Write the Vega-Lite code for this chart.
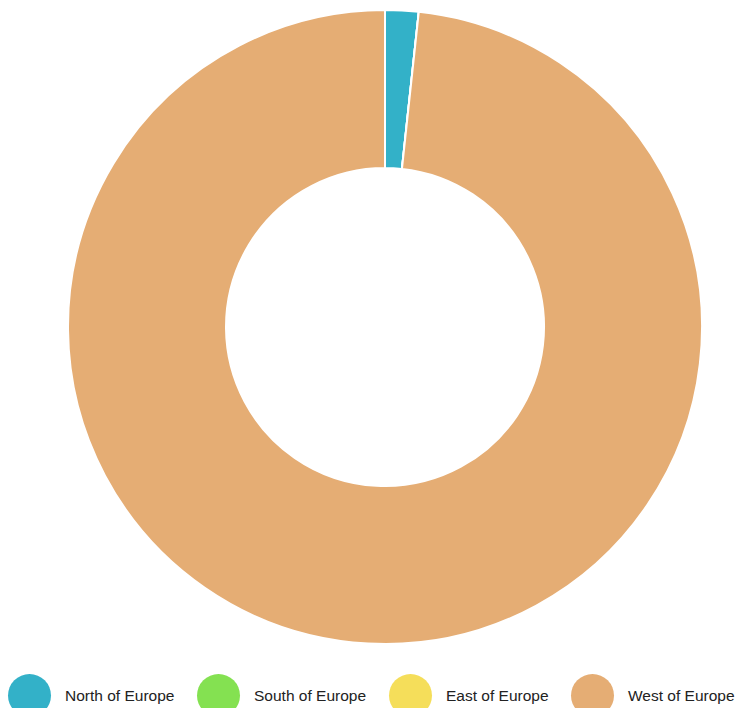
{
  "$schema": "https://vega.github.io/schema/vega-lite/v6.json",
  "width": 770,
  "height": 654,
  "padding": 0,
  "autosize": {"type": "pad"},
  "background": "white",
  "config": {"view": {"stroke": null}, "font": "Liberation Sans"},
  "data": {
    "values": [
      {"region": "North of Europe", "value": 1.7, "idx": 1},
      {"region": "South of Europe", "value": 0, "idx": 2},
      {"region": "East of Europe", "value": 0, "idx": 3},
      {"region": "West of Europe", "value": 98.3, "idx": 4}
    ]
  },
  "mark": {"type": "arc", "outerRadius": 317, "innerRadius": 159, "stroke": "white", "strokeWidth": 2},
  "encoding": {
    "theta": {"field": "value", "type": "quantitative", "stack": true},
    "order": {"field": "idx", "type": "quantitative"},
    "color": {
      "field": "region",
      "type": "nominal",
      "scale": {
        "domain": ["North of Europe", "South of Europe", "East of Europe", "West of Europe"],
        "range": ["#33b1c8", "#84e151", "#f5de5a", "#e5ad74"]
      },
      "legend": {
        "title": null,
        "orient": "none",
        "direction": "horizontal",
        "columns": 4,
        "legendX": 8,
        "legendY": 674,
        "padding": 0,
        "symbolType": "circle",
        "symbolSize": 1849,
        "symbolStrokeWidth": 0,
        "symbolOpacity": 1,
        "labelFont": "Liberation Sans",
        "labelFontSize": 15.5,
        "labelColor": "#222222",
        "labelOffset": 14,
        "columnPadding": 22,
        "labelLimit": 300
      }
    }
  }
}
